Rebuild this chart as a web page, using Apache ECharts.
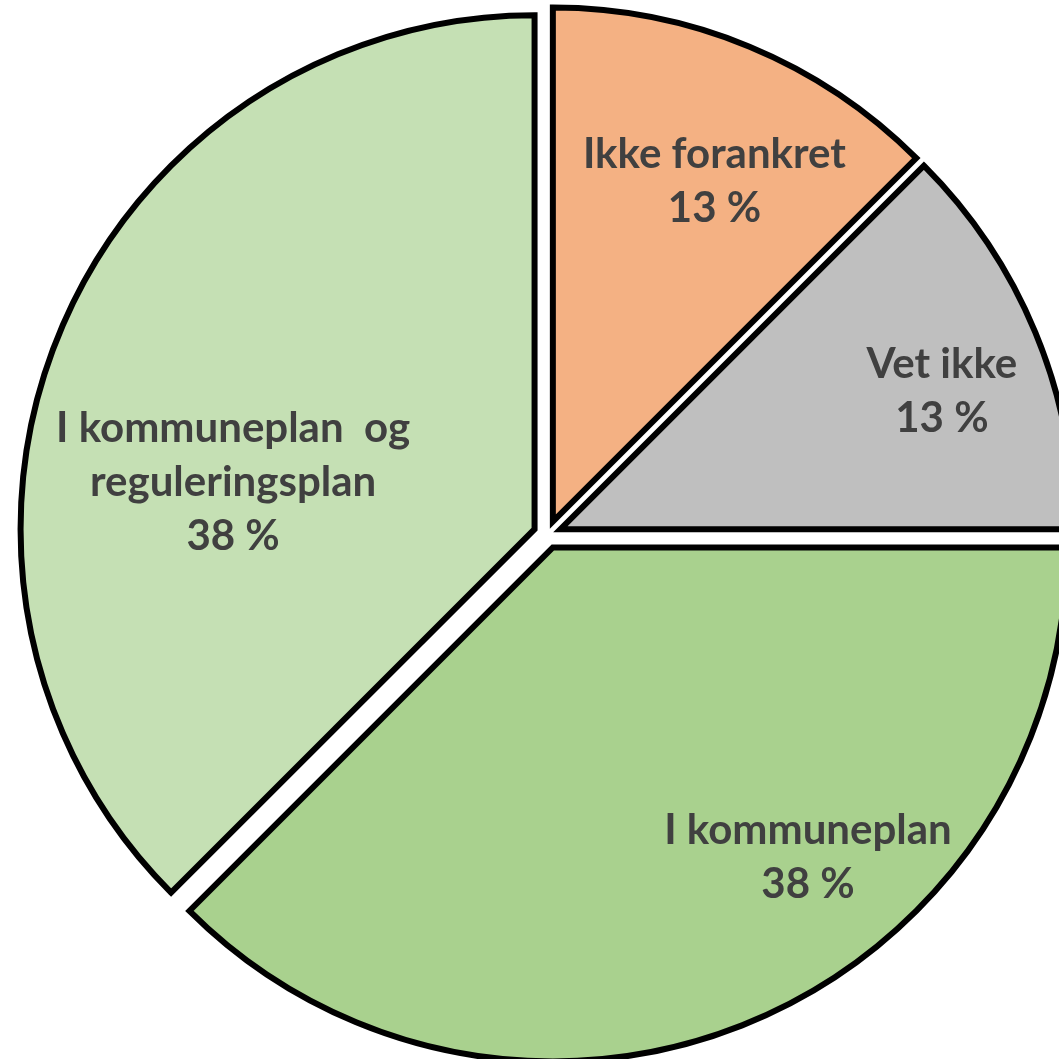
<!DOCTYPE html>
<html>
<head>
<meta charset="utf-8">
<script src="https://cdn.jsdelivr.net/npm/echarts@6/dist/echarts.min.js"></script>
<style>
    html, body { margin: 0; padding: 0; background: #fff; }
    #pieChart { width: 1059px; height: 1059px; }
</style>
</head>
<body>
<div id="pieChart"></div>
<script>
// 数据
const categories = ['Ikke forankret', 'Vet ikke', 'I kommuneplan', 'I kommuneplan  og\nreguleringsplan'];
const shares = [12.5, 12.5, 37.5, 37.5];
const sliceColors = ['#F4B183', '#BFBFBF', '#A9D18E', '#C5E0B4'];

// 标签位置: [角度(从12点顺时针), 半径比例]
const labelAnchors = [[25.3, 0.76], [70.1, 0.816], [141.1, 0.807], [279.4, 0.62]];

const CX = 547.5, CY = 534.5, R = 514;

document.addEventListener('DOMContentLoaded', function () {
    const chartDom = document.getElementById('pieChart');
    const myChart = echarts.init(chartDom);

    const option = {
        backgroundColor: '#fff',
        animation: false,
        series: [
            // 扇区 (全部选中以分离)
            {
                type: 'pie',
                center: [CX, CY],
                radius: [0, R],
                startAngle: 90,
                clockwise: true,
                selectedMode: 'multiple',
                selectedOffset: 14,
                itemStyle: {
                    borderColor: '#000',
                    borderWidth: 6,
                    borderJoin: 'miter'
                },
                emphasis: { disabled: true },
                label: { show: false },
                labelLine: { show: false },
                data: categories.map(function (name, i) {
                    return {
                        name: name,
                        value: shares[i],
                        selected: true,
                        itemStyle: { color: sliceColors[i] },
                        select: { itemStyle: { color: sliceColors[i], borderColor: '#000', borderWidth: 6 } }
                    };
                })
            },
            // 标签层
            {
                type: 'pie',
                center: [CX, CY],
                radius: [0, R],
                startAngle: 90,
                clockwise: true,
                silent: true,
                z: 10,
                itemStyle: { color: 'transparent', borderWidth: 0 },
                emphasis: { disabled: true },
                label: {
                    show: true,
                    position: 'inside',
                    color: '#404040',
                    fontFamily: 'Lato',
                    fontWeight: 'bold',
                    fontSize: 42,
                    lineHeight: 54,
                    align: 'center',
                    verticalAlign: 'middle',
                    formatter: function (p) {
                        return p.name + '\n' + Math.round(p.percent) + ' %';
                    }
                },
                labelLine: { show: false },
                labelLayout: function (params) {
                    const a = labelAnchors[params.dataIndex];
                    const rad = a[0] * Math.PI / 180;
                    return {
                        x: CX + Math.sin(rad) * R * a[1],
                        y: CY - Math.cos(rad) * R * a[1],
                        align: 'center',
                        verticalAlign: 'middle'
                    };
                },
                data: categories.map(function (name, i) {
                    return { name: name, value: shares[i] };
                })
            }
        ]
    };

    myChart.setOption(option);
});
</script>
</body>
</html>
